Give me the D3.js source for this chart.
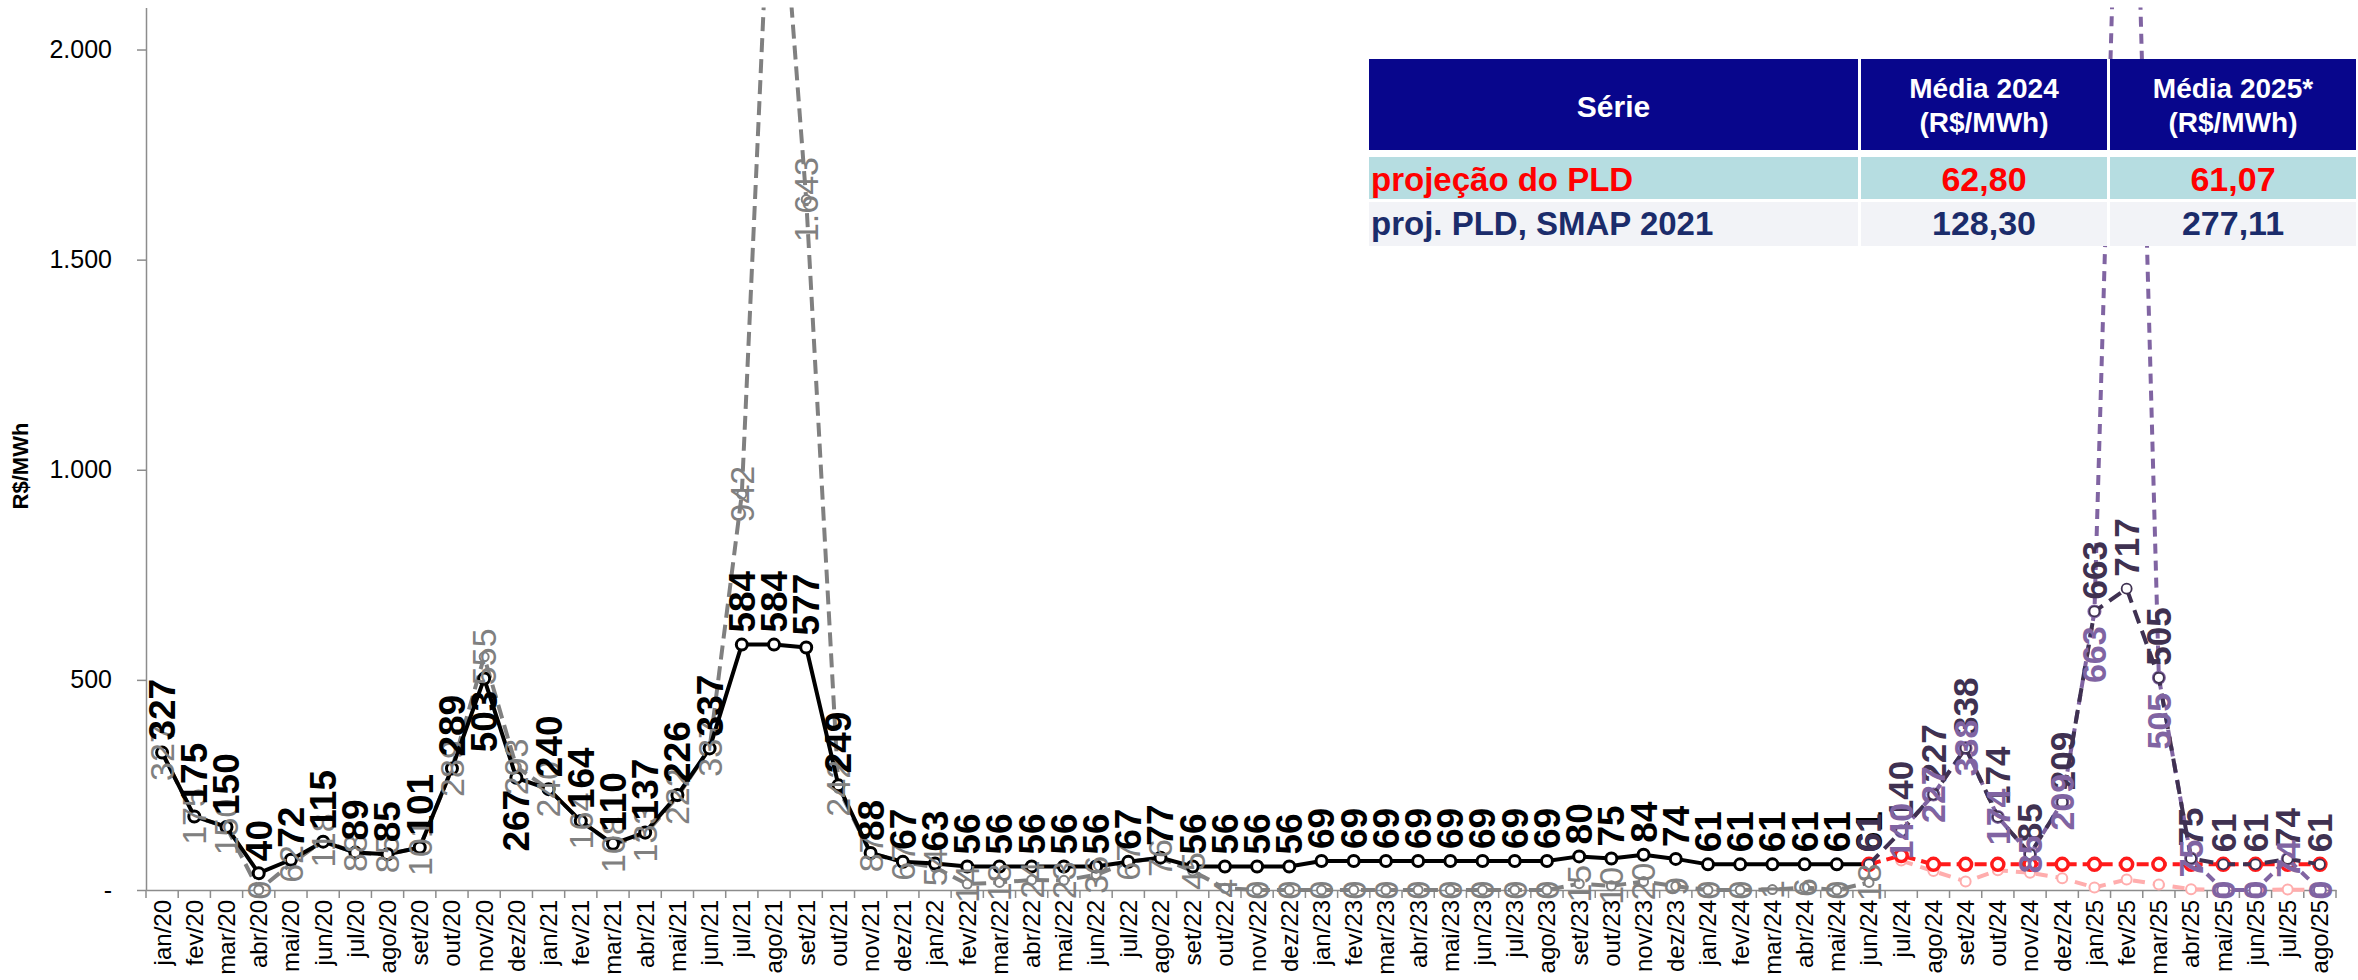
<!DOCTYPE html>
<html><head><meta charset="utf-8">
<script src="https://cdn.jsdelivr.net/npm/d3@7"></script>
<style>
body{margin:0;background:#fff;}
svg{display:block;font-family:"Liberation Sans",Arial,sans-serif;}
</style>
</head><body>
<svg id="chart" width="2358" height="980"></svg>
<script>
// ---------------- DATA ----------------
const categories = [
 "jan/20","fev/20","mar/20","abr/20","mai/20","jun/20","jul/20","ago/20","set/20","out/20","nov/20","dez/20",
 "jan/21","fev/21","mar/21","abr/21","mai/21","jun/21","jul/21","ago/21","set/21","out/21","nov/21","dez/21",
 "jan/22","fev/22","mar/22","abr/22","mai/22","jun/22","jul/22","ago/22","set/22","out/22","nov/22","dez/22",
 "jan/23","fev/23","mar/23","abr/23","mai/23","jun/23","jul/23","ago/23","set/23","out/23","nov/23","dez/23",
 "jan/24","fev/24","mar/24","abr/24","mai/24","jun/24","jul/24","ago/24","set/24","out/24","nov/24","dez/24",
 "jan/25","fev/25","mar/25","abr/25","mai/25","jun/25","jul/25","ago/25"
];
const yTicks = [0, 500, 1000, 1500, 2000];
const yMax = 2100;

// historical PLD (jan/20 .. jun/24)
const pldHistStart = "jan/20";
const pldHist = [327,175,150,40,72,115,89,85,101,289,503,267,
 240,164,110,137,226,337,584,584,577,249,88,67,
 63,56,56,56,56,56,67,77,56,56,56,56,
 69,69,69,69,69,69,69,69,80,75,84,74,
 61,61,61,61,61,61];
const pldHistLabelsBelow = ["nov/20","dez/20"];

// historical simulation with SMAP 2021 (jan/20 .. jun/24)
const smapHistStart = "jan/20";
const smapHist = [327,175,150,0,62,118,88,85,101,289,555,293,
 240,164,108,133,222,337,942,2650,1643,242,87,67,
 54,14,18,24,23,36,67,76,45,4,0,0,
 0,0,0,0,0,0,0,0,15,10,20,9,
 0,0,1,6,0,18];

// projeção do PLD (jun/24 .. ago/25)
const projPldStart = "jun/24";
const projPld = [61,82,61,61,61,61,61,61,61,61,61,61,61,61,61];

// lower projection (jul/24 .. ago/25)
const projLowStart = "jul/24";
const projLow = [70,45,20,47,41,28,6,25,13,2,0,0,1,0];

// proj. PLD, SMAP 2021 (jun/24 .. ago/25)
const projSmapStart = "jun/24";
const projSmap = [61,140,227,338,174,85,209,663,717,505,75,61,61,74,61];

// proj. SMAP 2021 without floor/ceiling (jul/24 .. ago/25)
const projSmapRawStart = "jul/24";
const projSmapRaw = [140,227,338,174,85,209,663,3300,505,75,0,0,74,0];

// table
const tableHeaders = ["Série", "Média 2024", "Média 2025*"];
const tableUnit = "(R$/MWh)";
const tableRows = ["projeção do PLD", "proj. PLD, SMAP 2021"];
const avg2024 = [62.80, 128.30];
const avg2025 = [61.07, 277.11];

// ---------------- CHART ----------------
const svg = d3.select("#chart");
const L = 146, R = 2336, T = 7.5, B = 890;
const x = d3.scaleBand().domain(categories).range([L, R]).padding(0);
const y = d3.scaleLinear().domain([0, yMax]).range([B, T]);
const bw = x.bandwidth();
const cx = c => x(c) + bw / 2;

const ptBR = d3.formatLocale({decimal: ",", thousands: ".", grouping: [3], currency: ["R$", ""]});
const fmt0 = ptBR.format(",.0f");
const fmt2 = ptBR.format(",.2f");

function pts(values, start) {
  const i0 = categories.indexOf(start);
  return values.map((v, i) => ({c: categories[i0 + i], v})).filter(d => d.v != null);
}

svg.append("defs").append("clipPath").attr("id", "plot")
  .append("rect").attr("x", L).attr("y", T).attr("width", R - L + 20).attr("height", B - T + 12);

// axes
const gy = svg.append("g").attr("transform", `translate(${L},0)`)
  .call(d3.axisLeft(y).tickValues(yTicks).tickSize(9).tickSizeOuter(0).tickPadding(25)
    .tickFormat(v => v === 0 ? "-" : fmt0(v)));
gy.select(".domain").attr("stroke", "#8c8c8c").attr("stroke-width", 1.5);
gy.selectAll(".tick line").attr("stroke", "#8c8c8c").attr("stroke-width", 1.5);
gy.selectAll(".tick text").attr("font-size", 25).attr("fill", "#000").attr("font-family", "Liberation Sans, Arial, sans-serif");

const gx = svg.append("g").attr("transform", `translate(0,${B})`)
  .call(d3.axisBottom(x).tickSize(0).tickSizeOuter(0));
gx.select(".domain").attr("stroke", "#8c8c8c").attr("stroke-width", 1.5);
gx.selectAll(".tick text")
  .attr("font-size", 24).attr("fill", "#000").attr("font-family", "Liberation Sans, Arial, sans-serif")
  .attr("x", -10).attr("y", 0).attr("dy", "0.35em")
  .attr("transform", "rotate(-90)").style("text-anchor", "end");
// boundary ticks
svg.append("g").selectAll("line").data(d3.range(categories.length + 1)).join("line")
  .attr("x1", i => L + i * bw).attr("x2", i => L + i * bw)
  .attr("y1", B).attr("y2", B + 8).attr("stroke", "#8c8c8c").attr("stroke-width", 1.5);

svg.append("text").attr("transform", `translate(28,466) rotate(-90)`)
  .attr("text-anchor", "middle").attr("font-size", 22).attr("font-weight", "bold").text("R$/MWh");

// series
const lineGen = d3.line().x(d => cx(d.c)).y(d => y(d.v));
const plot = svg.append("g").attr("clip-path", "url(#plot)");

function drawSeries(data, o) {
  plot.append("path").datum(data).attr("d", lineGen).attr("fill", "none")
    .attr("stroke", o.color).attr("stroke-width", o.width)
    .attr("stroke-dasharray", o.dash || null).attr("stroke-linejoin", "round");
  plot.append("g").selectAll("circle").data(data).join("circle")
    .attr("cx", d => cx(d.c)).attr("cy", d => y(d.v)).attr("r", o.r)
    .attr("fill", "#fff").attr("stroke", o.mcolor || o.color).attr("stroke-width", o.mw);
}

const sSmapHist = pts(smapHist, smapHistStart);
const sPld = pts(pldHist, pldHistStart);
const sLow = pts(projLow, projLowStart);
const sProj = pts(projPld, projPldStart);
const sRaw = pts(projSmapRaw, projSmapRawStart);
const sSmap = pts(projSmap, projSmapStart);

drawSeries(sSmapHist, {color: "#808080", width: 4, dash: "14,7", r: 4.5, mw: 2});
drawSeries(sPld, {color: "#000", width: 4, r: 5.5, mw: 3});
drawSeries(sLow, {color: "#ffadad", width: 4, dash: "12,8", r: 5, mw: 2});
drawSeries(sProj, {color: "#ff1a1a", width: 4, dash: "12,6", r: 6, mw: 3.5});
drawSeries(sRaw, {color: "#8064a2", width: 4, dash: "10,7", r: 6, mw: 2});
drawSeries(sSmap, {color: "#3f3151", width: 4, dash: "14,8", r: 5, mw: 1.8});

// labels
function drawLabels(data, o) {
  svg.append("g").selectAll("text").data(data.filter(d => d.v <= yMax)).join("text")
    .attr("transform", d => {
      const p = o.pos(d);
      const yy = p === "above" ? y(d.v) - o.gap : p === "below" ? y(d.v) + o.gap : y(d.v);
      return `translate(${cx(d.c)},${yy}) rotate(-90)`;
    })
    .attr("text-anchor", d => { const p = o.pos(d); return p === "above" ? "start" : p === "below" ? "end" : "middle"; })
    .attr("dy", "0.35em")
    .attr("font-size", o.size).attr("font-weight", o.weight).attr("fill", o.color)
    .text(d => fmt0(d.v));
}
drawLabels(sSmapHist, {pos: () => "center", gap: 0, size: 34, weight: "normal", color: "#808080"});
drawLabels(sPld, {pos: d => pldHistLabelsBelow.includes(d.c) ? "below" : "above", gap: 12, size: 37, weight: "bold", color: "#000"});
drawLabels(sSmap, {pos: () => "above", gap: 12, size: 35, weight: "bold", color: "#3f3151"});
drawLabels(sRaw, {pos: d => d.v > 400 ? "below" : "center", gap: 15, size: 34, weight: "bold", color: "#8064a2"});

// ---------------- TABLE ----------------
const cols = [[1369, 1858], [1861, 2107], [2110, 2356]];
const rowsY = [[157, 199], [202, 246]];
const tg = svg.append("g");
tg.append("rect").attr("x", 1369).attr("y", 59).attr("width", 2356 - 1369).attr("height", 246 - 59).attr("fill", "#fff");
cols.forEach(([a, b]) => tg.append("rect").attr("x", a).attr("y", 59).attr("width", b - a).attr("height", 91).attr("fill", "#08068c"));
const rowBg = ["#b6dde1", "#f2f3f7"];
const rowColor = ["#ff0000", "#1b2c6b"];
rowsY.forEach(([a, b], r) => cols.forEach(([c0, c1]) =>
  tg.append("rect").attr("x", c0).attr("y", a).attr("width", c1 - c0).attr("height", b - a).attr("fill", rowBg[r])));

tg.append("text").attr("x", (cols[0][0] + cols[0][1]) / 2).attr("y", 117).attr("text-anchor", "middle")
  .attr("font-size", 30).attr("font-weight", "bold").attr("fill", "#fff").text(tableHeaders[0]);
[1, 2].forEach(i => {
  const mx = (cols[i][0] + cols[i][1]) / 2;
  tg.append("text").attr("x", mx).attr("y", 98).attr("text-anchor", "middle")
    .attr("font-size", 28).attr("font-weight", "bold").attr("fill", "#fff").text(tableHeaders[i]);
  tg.append("text").attr("x", mx).attr("y", 132).attr("text-anchor", "middle")
    .attr("font-size", 28).attr("font-weight", "bold").attr("fill", "#fff").text(tableUnit);
});
const baselines = [191, 235];
tableRows.forEach((name, r) => {
  tg.append("text").attr("x", 1371).attr("y", baselines[r]).attr("font-size", 33).attr("font-weight", "bold")
    .attr("fill", rowColor[r]).text(name);
  [avg2024[r], avg2025[r]].forEach((v, k) => {
    const mx = (cols[k + 1][0] + cols[k + 1][1]) / 2;
    tg.append("text").attr("x", mx).attr("y", baselines[r]).attr("text-anchor", "middle")
      .attr("font-size", 34).attr("font-weight", "bold").attr("fill", rowColor[r]).text(fmt2(v));
  });
});
</script>
</body></html>
